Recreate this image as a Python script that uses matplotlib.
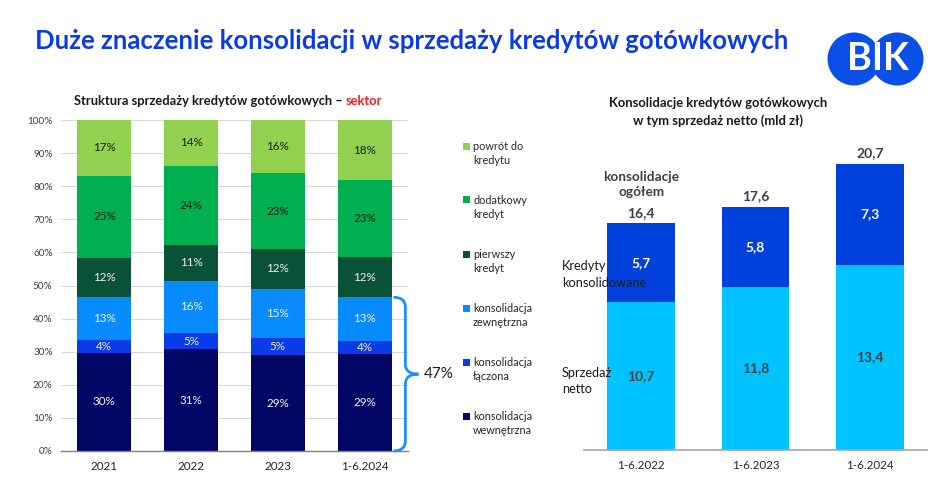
import matplotlib
matplotlib.use("Agg")
import matplotlib.pyplot as plt
import numpy as np
from matplotlib.path import Path
from matplotlib.patches import PathPatch, Ellipse, Rectangle

plt.rcParams['font.family'] = ['Lato', 'DejaVu Sans']

# ---------------- data ----------------
years = ["2021", "2022", "2023", "1-6.2024"]
seg_names = ["konsolidacja\nwewnętrzna", "konsolidacja\nłączona", "konsolidacja\nzewnętrzna",
             "pierwszy\nkredyt", "dodatkowy\nkredyt", "powrót do\nkredytu"]
kons_wewn = [30, 31, 29, 29]
kons_lacz = [4, 5, 5, 4]
kons_zewn = [13, 16, 15, 13]
pierwszy = [12, 11, 12, 12]
dodatkowy = [25, 24, 23, 23]
powrot = [17, 14, 16, 18]
brace_label = "47%"

periods = ["1-6.2022", "1-6.2023", "1-6.2024"]
sprzedaz_netto = [10.7, 11.8, 13.4]
kredyty_kons = [5.7, 5.8, 7.3]
kons_total = [16.4, 17.6, 20.7]

# ---------------- style ----------------
seg_colors = ["#020766", "#0B3BE6", "#078BFF", "#0A5237", "#00B050", "#92D050"]
seg_text = ["#F2F2F2", "#F2F2F2", "#F2F2F2", "#F2F2F2", "#1A1A1A", "#1A1A1A"]
c_netto = "#00C3FF"
c_kons = "#0040DC"

W, H = 948, 479
fig = plt.figure(figsize=(W / 100, H / 100), dpi=100)
fig.patch.set_facecolor("white")


def fx(px):
    return px / W


def fy(py):
    return 1 - py / H


renderer = fig.canvas.get_renderer()


def fit(t, width_px):
    w = t.get_window_extent(renderer).width
    t.set_fontsize(t.get_fontsize() * width_px / w)
    return t


# ---------------- main title & logo ----------------
t = fig.text(fx(35), fy(49), "Duże znaczenie konsolidacji w sprzedaży kredytów gotówkowych",
             ha="left", va="baseline", color="#0A3BE6", fontweight="bold", fontsize=17)
fit(t, 755)

for cx in (854, 897):
    fig.patches.append(Ellipse((fx(cx), fy(59)), 53 / W, 53 / H, transform=fig.transFigure,
                               facecolor="#0A50E8", edgecolor="none"))
tb = fig.text(fx(877.5), fy(59), "BIK", ha="center", va="center", color="white",
              fontweight="bold", fontsize=22)
fit(tb, 62)

# ---------------- left chart ----------------
axL = fig.add_axes([fx(61), fy(451), fx(408) - fx(61), fy(120) - fy(451)])
data = np.array([kons_wewn, kons_lacz, kons_zewn, pierwszy, dodatkowy, powrot], dtype=float)
totals = data.sum(axis=0)
norm = data / totals * 100
x = np.arange(len(years))
bottom = np.zeros(len(years))
for i in range(len(seg_names)):
    axL.bar(x, norm[i], 0.62, bottom=bottom, color=seg_colors[i], zorder=2)
    for j in range(len(years)):
        axL.text(x[j], bottom[j] + norm[i][j] / 2, f"{int(data[i][j])}%", ha="center",
                 va="center", fontsize=8.4, color=seg_text[i], zorder=3)
    bottom += norm[i]

axL.set_xlim(-0.5, 3.5)
axL.set_ylim(0, 100)
axL.set_yticks(np.arange(0, 101, 10))
axL.set_yticklabels([f"{v}%" for v in range(0, 101, 10)])
axL.set_xticks(x)
axL.set_xticklabels(years)
axL.grid(axis="y", color="#D9D9D9", lw=0.8, zorder=0)
axL.tick_params(axis="y", length=0, pad=6, labelsize=7.2, labelcolor="#404040")
axL.tick_params(axis="x", length=0, pad=7, labelsize=8.4, labelcolor="#262626")
for s in ["top", "right", "left"]:
    axL.spines[s].set_visible(False)
axL.spines["bottom"].set_color("#808080")
axL.spines["bottom"].set_linewidth(1.0)
axL.spines["bottom"].set_zorder(4)

# brace over the consolidation share of the last bar
top = norm[:3, -1].sum()
mid = top / 2
x0, x1, x2 = 3.333, 3.47, 3.62
r = 3.0
verts = [(x0, top), (x1, top), (x1, top - r), (x1, mid + r), (x1, mid), (x2, mid),
         (x1, mid), (x1, mid - r), (x1, r), (x1, 0), (x0, 0)]
codes = [Path.MOVETO, Path.CURVE3, Path.CURVE3, Path.LINETO, Path.CURVE3, Path.CURVE3,
         Path.CURVE3, Path.CURVE3, Path.LINETO, Path.CURVE3, Path.CURVE3]
axL.add_patch(PathPatch(Path(verts, codes), facecolor="none", edgecolor="#1E8FFF", lw=2,
                        clip_on=False, zorder=5))
axL.text(3.68, mid, brace_label, ha="left", va="center", fontsize=11, color="#1A1A1A",
         clip_on=False)

# left title
tl1 = fig.text(fx(74), fy(101), "Struktura sprzedaży kredytów gotówkowych – ", ha="left",
               va="center", fontweight="bold", fontsize=8.3, color="#1A1A1A")
w1 = tl1.get_window_extent(renderer).width
tl2 = fig.text(fx(74 + w1), fy(101), "sektor", ha="left", va="center", fontweight="bold",
               fontsize=8.3, color="#FF1A1A")
w2 = tl2.get_window_extent(renderer).width
scale = 309 / (w1 + w2)
tl1.set_fontsize(8.3 * scale)
tl2.set_fontsize(8.3 * scale)
w1 = tl1.get_window_extent(renderer).width
tl2.set_x(fx(74 + w1))

# legend
leg_y = [146, 200, 254, 308, 362, 416]
for k, name in enumerate(reversed(seg_names)):
    col = list(reversed(seg_colors))[k]
    yy = leg_y[k]
    fig.patches.append(Rectangle((fx(463), fy(yy + 3.5)), 7 / W, 7 / H, transform=fig.transFigure,
                                 facecolor=col, edgecolor="none"))
    l1, l2 = name.split("\n")
    fig.text(fx(473), fy(yy), l1, ha="left", va="center", fontsize=7.8, color="#262626")
    fig.text(fx(473), fy(yy + 15), l2, ha="left", va="center", fontsize=7.8, color="#262626")

# ---------------- right chart ----------------
axR = fig.add_axes([fx(584), fy(450), fx(927) - fx(584), fy(130) - fy(450)])
xr = np.arange(len(periods))
axR.bar(xr, sprzedaz_netto, 0.59, color=c_netto, zorder=2)
axR.bar(xr, kredyty_kons, 0.59, bottom=sprzedaz_netto, color=c_kons, zorder=2)
for j in range(len(periods)):
    axR.text(xr[j], sprzedaz_netto[j] / 2, f"{sprzedaz_netto[j]:.1f}".replace(".", ","),
             ha="center", va="center", fontsize=10, fontweight="bold", color="#404040", zorder=3)
    axR.text(xr[j], sprzedaz_netto[j] + kredyty_kons[j] / 2,
             f"{kredyty_kons[j]:.1f}".replace(".", ","), ha="center", va="center", fontsize=10,
             fontweight="bold", color="white", zorder=3)
    axR.annotate(f"{kons_total[j]:.1f}".replace(".", ","), (xr[j], kons_total[j]),
                 xytext=(0, 7.5), textcoords="offset points", ha="center", va="center",
                 fontsize=10, fontweight="bold", color="#404040")
axR.annotate("konsolidacje\nogółem", (xr[0], kons_total[0]), xytext=(0, 27.5),
             textcoords="offset points", ha="center", va="center", fontsize=9.8,
             fontweight="bold", color="#404040", linespacing=1.3)
axR.set_xlim(-0.5, 2.5)
axR.set_ylim(0, 320 / 13.83)
axR.set_xticks(xr)
axR.set_xticklabels(periods)
axR.set_yticks([])
axR.tick_params(axis="x", length=0, pad=7, labelsize=8.4, labelcolor="#262626")
for s in ["top", "right", "left"]:
    axR.spines[s].set_visible(False)
axR.spines["bottom"].set_color("#A6A6A6")
axR.spines["bottom"].set_linewidth(1.2)
axR.patch.set_alpha(0)

fig.text(fx(562), fy(266), "Kredyty", ha="left", va="center", fontsize=9.2, color="#1A1A1A",
         zorder=10)
fig.text(fx(562), fy(283), "konsolidowane", ha="left", va="center", fontsize=9.2,
         color="#1A1A1A", zorder=10)
fig.text(fx(562), fy(373), "Sprzedaż", ha="left", va="center", fontsize=9.2, color="#1A1A1A",
         zorder=10)
fig.text(fx(562), fy(389), "netto", ha="left", va="center", fontsize=9.2, color="#1A1A1A",
         zorder=10)

tr1 = fig.text(fx(718), fy(103), "Konsolidacje kredytów gotówkowych", ha="center", va="center",
               fontweight="bold", fontsize=8.6, color="#1A1A1A")
fit(tr1, 217)
fig.text(fx(718), fy(121), "w tym sprzedaż netto (mld zł)", ha="center", va="center",
         fontweight="bold", fontsize=tr1.get_fontsize(), color="#1A1A1A")

fig.savefig("out.png", dpi=100)
